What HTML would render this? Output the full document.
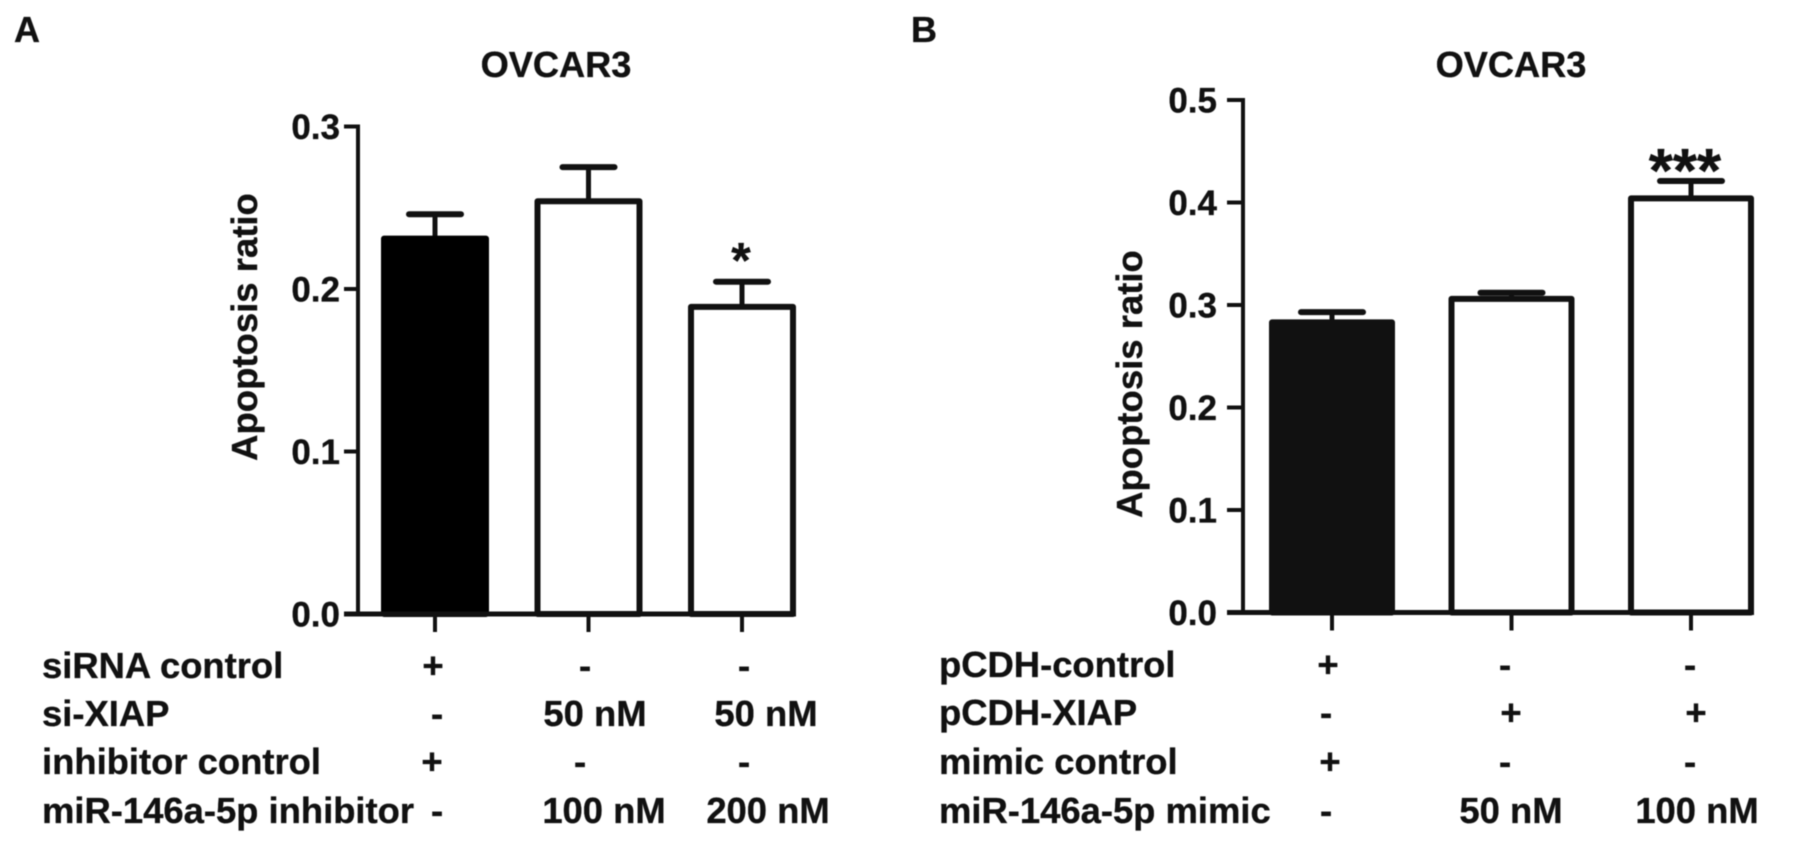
<!DOCTYPE html>
<html lang="en">
<head>
<meta charset="utf-8">
<title>OVCAR3 apoptosis ratio</title>
<style>
html,body{margin:0;padding:0;background:#fff;width:1795px;height:844px;overflow:hidden}
svg{display:block;filter:blur(.55px)}
text{font-family:"Liberation Sans",Arial,sans-serif;font-weight:700;fill:#111;stroke:#111;stroke-width:.35px}
.row{font-size:36.4px}
.mid{text-anchor:middle}
.title{font-size:36.2px;text-anchor:middle}
.panel{font-size:36px}
.tick{font-size:35px;text-anchor:end}
.ytitle{font-size:36.5px;text-anchor:middle}
</style>
</head>
<body>
<svg id="figure" width="1795" height="844" viewBox="0 0 1795 844" xmlns="http://www.w3.org/2000/svg">
  <text class="panel" x="14" y="42">A</text>
  <text class="panel" x="911" y="42">B</text>
  <text class="title" x="556" y="77">OVCAR3</text>
  <text class="title" x="1511" y="77">OVCAR3</text>
  <text class="ytitle" transform="translate(257,327) rotate(-90)">Apoptosis ratio</text>
  <text class="ytitle" transform="translate(1142,384) rotate(-90)">Apoptosis ratio</text>
  <g id="plot-a"></g>
  <g id="plot-b"></g>
  <g>
    <text class="row" x="42" y="678">siRNA control</text>
    <text class="row mid" x="433" y="678">+</text>
    <text class="row mid" x="585" y="678">-</text>
    <text class="row mid" x="744" y="678">-</text>
    <text class="row" x="42" y="726">si-XIAP</text>
    <text class="row mid" x="437" y="726">-</text>
    <text class="row mid" x="595" y="726">50 nM</text>
    <text class="row mid" x="766" y="726">50 nM</text>
    <text class="row" x="42" y="774">inhibitor control</text>
    <text class="row mid" x="432" y="774">+</text>
    <text class="row mid" x="580" y="774">-</text>
    <text class="row mid" x="744" y="774">-</text>
    <text class="row" x="42" y="823">miR-146a-5p inhibitor</text>
    <text class="row mid" x="437" y="823">-</text>
    <text class="row mid" x="604" y="823">100 nM</text>
    <text class="row mid" x="768" y="823">200 nM</text>
  </g>
  <g>
    <text class="row" x="939" y="677">pCDH-control</text>
    <text class="row mid" x="1328" y="677">+</text>
    <text class="row mid" x="1505" y="677">-</text>
    <text class="row mid" x="1690" y="677">-</text>
    <text class="row" x="939" y="725">pCDH-XIAP</text>
    <text class="row mid" x="1326" y="725">-</text>
    <text class="row mid" x="1511" y="725">+</text>
    <text class="row mid" x="1696" y="725">+</text>
    <text class="row" x="939" y="774">mimic control</text>
    <text class="row mid" x="1330" y="774">+</text>
    <text class="row mid" x="1505" y="774">-</text>
    <text class="row mid" x="1690" y="774">-</text>
    <text class="row" x="939" y="823">miR-146a-5p mimic</text>
    <text class="row mid" x="1326" y="823">-</text>
    <text class="row mid" x="1511" y="823">50 nM</text>
    <text class="row mid" x="1697" y="823">100 nM</text>
  </g>
</svg>
<script>
// Panel A data
const categoriesA = ['control', 'si-XIAP + 100 nM inhibitor', 'si-XIAP + 200 nM inhibitor'];
const valuesA = [0.231, 0.254, 0.189];
const errorsA = [0.015, 0.021, 0.0155];
const fillsA = ['#000', '#fff', '#fff'];
const marksA = ['', '', '*'];
const ticksA = [0, 0.1, 0.2, 0.3];
const tickLabelsA = ['0.0', '0.1', '0.2', '0.3'];

// Panel B data
const categoriesB = ['control', 'pCDH-XIAP + 50 nM mimic', 'pCDH-XIAP + 100 nM mimic'];
const valuesB = [0.283, 0.306, 0.404];
const errorsB = [0.01, 0.006, 0.017];
const fillsB = ['#111', '#fff', '#fff'];
const marksB = ['', '', '***'];
const ticksB = [0, 0.1, 0.2, 0.3, 0.4, 0.5];
const tickLabelsB = ['0.0', '0.1', '0.2', '0.3', '0.4', '0.5'];

const NS = 'http://www.w3.org/2000/svg';

function add(parent, tag, attrs) {
  const el = document.createElementNS(NS, tag);
  for (const k in attrs) el.setAttribute(k, attrs[k]);
  parent.appendChild(el);
  return el;
}

function drawPanel(cfg) {
  const g = document.getElementById(cfg.id);
  const y = v => cfg.y0 - v * cfg.pxPerUnit;
  const x = i => cfg.x0 + i * cfg.step;
  const top = y(cfg.ticks[cfg.ticks.length - 1]);

  const axisY = add(g, 'line', {x1: cfg.axisX, x2: cfg.axisX, y1: top - 2, y2: cfg.y0 + 2, stroke: '#111', 'stroke-width': 4});
  
  

  cfg.ticks.forEach((t, i) => {
    const tk = add(g, 'line', {x1: cfg.tickLeft, x2: cfg.axisX, y1: y(t), y2: y(t), stroke: '#111', 'stroke-width': 4});
    
    
    const lb = add(g, 'text', {class: 'tick', x: cfg.tickLeft - cfg.labelGap, y: y(t) + 12.5});
    lb.textContent = cfg.tickLabels[i];
    
    
  });

  cfg.values.forEach((v, i) => {
    const cx = x(i);
    const hi = v + cfg.errors[i];
    const stem = add(g, 'line', {x1: cx, x2: cx, y1: y(v), y2: y(hi), stroke: '#111', 'stroke-width': 5});
    
    
    const cap = add(g, 'line', {x1: cx - cfg.capW / 2, x2: cx + cfg.capW / 2, y1: y(hi), y2: y(hi), stroke: '#111', 'stroke-width': 6, 'stroke-linecap': 'round'});
    
    
    const bar = add(g, 'rect', {x: cx - cfg.barW / 2, y: y(v), width: cfg.barW, height: cfg.y0 - y(v), fill: cfg.fills[i], stroke: cfg.fills[i] === '#fff' ? '#111' : cfg.fills[i], 'stroke-width': 6, 'stroke-linejoin': 'round'});
    
    
    const tk = add(g, 'line', {x1: cx, x2: cx, y1: cfg.y0, y2: cfg.y0 + 18, stroke: '#111', 'stroke-width': 4});
    
    
    if (cfg.marks[i]) {
      const m = add(g, 'text', {x: cx + cfg.markDx, y: y(hi) - cfg.markGap, 'text-anchor': 'middle', 'font-size': cfg.markSize});
      m.textContent = cfg.marks[i];
      
      
    }
  });

  const axisX = add(g, 'line', {x1: cfg.tickLeft, x2: x(cfg.values.length - 1) + cfg.barW / 2 + 3, y1: cfg.y0, y2: cfg.y0, stroke: '#111', 'stroke-width': 5});
  
  
}

drawPanel({id: 'plot-a', prefix: 'a', values: valuesA, errors: errorsA, fills: fillsA, marks: marksA, ticks: ticksA, tickLabels: tickLabelsA,
  y0: 614, pxPerUnit: 1625, x0: 435, step: 153.5, barW: 102, capW: 52, axisX: 358, tickLeft: 344, labelGap: 4, markSize: 50, markGap: 4, markDx: -1});
drawPanel({id: 'plot-b', prefix: 'b', values: valuesB, errors: errorsB, fills: fillsB, marks: marksB, ticks: ticksB, tickLabels: tickLabelsB,
  y0: 612.5, pxPerUnit: 1025, x0: 1332, step: 179.5, barW: 120, capW: 62, axisX: 1243, tickLeft: 1227, labelGap: 10, markSize: 62, markGap: -11, markDx: -6});
</script>
</body>
</html>
